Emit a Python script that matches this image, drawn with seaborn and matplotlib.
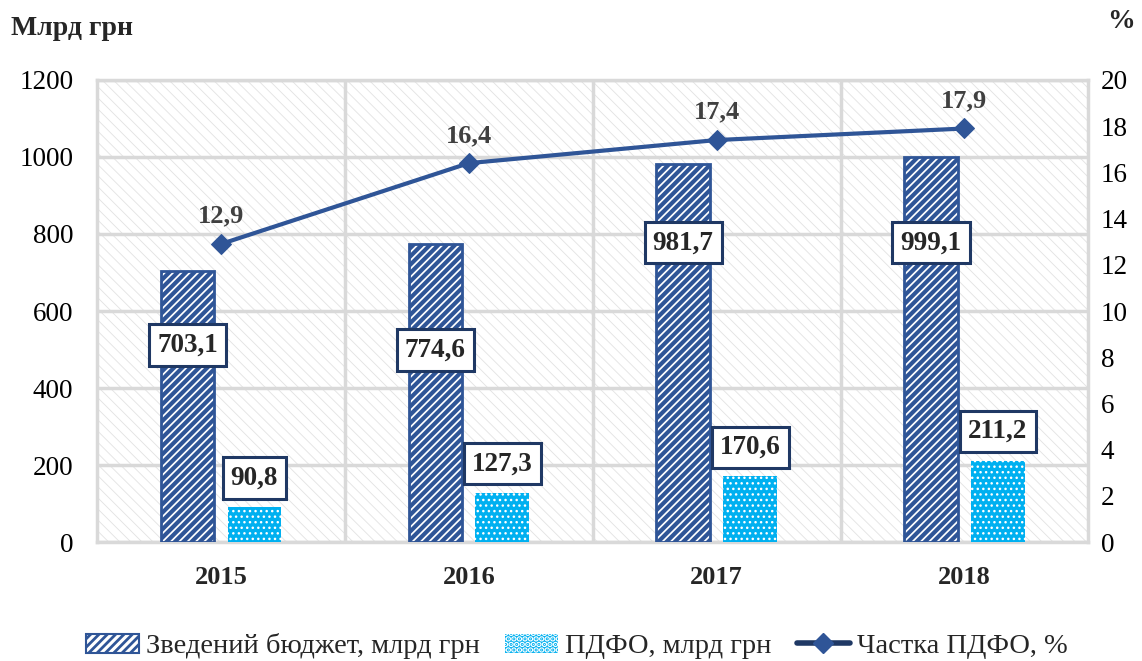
import numpy as np
import pandas as pd
import matplotlib
import matplotlib.pyplot as plt
import seaborn as sns
from matplotlib.patches import Patch
from matplotlib.lines import Line2D

years = ['2015', '2016', '2017', '2018']
budget = [703.1, 774.6, 981.7, 999.1]
pdfo = [90.8, 127.3, 170.6, 211.2]
share = [12.9, 16.4, 17.4, 17.9]

budget_name = 'Зведений бюджет, млрд грн'
pdfo_name = 'ПДФО, млрд грн'
share_name = 'Частка ПДФО, %'

# where the boxed labels of the big bars sit (data units)
budget_label_y = [512, 499, 777, 777]

df = pd.DataFrame({
    'year': years * 2,
    'value': budget + pdfo,
    'series': [budget_name] * len(years) + [pdfo_name] * len(years),
})

sns.set_theme(style='white')
plt.rcParams['font.family'] = ['Liberation Serif', 'DejaVu Serif']
plt.rcParams['hatch.linewidth'] = 3.0

navy = '#2F5597'
dark = '#1F3864'
light = '#00B0F0'
grey = '#D9D9D9'

fig = plt.figure(figsize=(11.42, 6.61), dpi=100)
ax = fig.add_axes([0.085, 0.18, 0.868, 0.699])

sns.barplot(data=df, x='year', y='value', hue='series', ax=ax, width=0.54, gap=0.2,
            palette=['white', light], legend=False, zorder=3, saturation=1)

def hatch_lw(p, w):
    if hasattr(p, 'set_hatch_linewidth'):
        p.set_hatch_linewidth(w)

for p in ax.containers[0]:
    p.set_facecolor('white')
    p.set_edgecolor(navy)
    p.set_hatch('////')
    p.set_linewidth(2)
    hatch_lw(p, 3.0)
for p in ax.containers[1]:
    p.set_facecolor(light)
    p.set_edgecolor('white')
    p.set_hatch('...')
    p.set_linewidth(0)
    hatch_lw(p, 1.0)

# hatched plot background
ax.patch.set_facecolor('white')
ax.patch.set_edgecolor('#E2E2E2')
ax.patch.set_hatch('\\\\\\')
hatch_lw(ax.patch, 0.6)

ax.set_xlim(-0.5, len(years) - 0.5)
ax.set_ylim(0, 1200)
ax.set_yticks(np.arange(0, 1201, 200))
ax.set_xticks(np.arange(0.5, len(years) - 0.5), minor=True)
ax.grid(True, axis='y', which='major', color=grey, lw=2.5, zorder=1)
ax.grid(True, axis='x', which='minor', color=grey, lw=2.5, zorder=1)
ax.set_axisbelow(True)
for s in ax.spines.values():
    s.set_color(grey)
    s.set_linewidth(2.5)
ax.set_xlabel('')
ax.set_ylabel('')
ax.tick_params(axis='y', labelsize=19.5, length=0, pad=17, colors='black')
ax.tick_params(axis='x', which='both', labelsize=19, length=0, pad=17)
for t in ax.get_xticklabels():
    t.set_fontweight('bold')

box = dict(boxstyle='square,pad=0.3', facecolor='white', edgecolor=dark, lw=2.2)
for bar, v, ly in zip(ax.containers[0], budget, budget_label_y):
    ax.text(bar.get_x() + bar.get_width() / 2, ly, f'{v:.1f}'.replace('.', ','),
            ha='center', va='center', fontsize=19.5, fontweight='bold', bbox=box, zorder=6)
for bar, v in zip(ax.containers[1], pdfo):
    ax.annotate(f'{v:.1f}'.replace('.', ','), (bar.get_x() + bar.get_width() / 2, v),
                xytext=(0, 21), textcoords='offset points', ha='center', va='center',
                fontsize=19.5, fontweight='bold', bbox=box, zorder=6)

ax2 = ax.twinx()
xpos = np.arange(len(years))
sns.lineplot(x=xpos, y=share, ax=ax2, color=navy, lw=3, marker='D', markersize=10,
             markeredgecolor=navy, markerfacecolor=navy, zorder=5)
ax2.set_ylim(0, 20)
ax2.set_yticks(np.arange(0, 21, 2))
ax2.tick_params(axis='y', labelsize=19.5, length=0, pad=9, colors='black')
ax2.grid(False)
for s in ax2.spines.values():
    s.set_visible(False)
for x, v in zip(xpos, share):
    ax2.annotate(f'{v:.1f}'.replace('.', ','), (x, v), xytext=(0, 20),
                 textcoords='offset points', ha='center', va='center',
                 fontsize=19, fontweight='bold', color='#404040')

fig.text(0.01, 0.957, 'Млрд грн', fontsize=20, fontweight='bold', va='center', ha='left')
fig.text(0.994, 0.967, '%', fontsize=20, fontweight='bold', va='center', ha='right')

handles = [
    Patch(facecolor='white', edgecolor=navy, hatch='////', lw=1.5, label=budget_name),
    Patch(facecolor=light, edgecolor='white', hatch='...', lw=0, label=pdfo_name),
    Line2D([0], [0], color=dark, lw=4, marker='D', markersize=10,
           markerfacecolor=navy, markeredgecolor=navy, label=share_name),
]
leg = fig.legend(handles=handles, loc='center', bbox_to_anchor=(0.505, 0.022), ncol=3,
                 frameon=False, fontsize=20.5, handlelength=1.85, handleheight=0.7,
                 handletextpad=0.25, columnspacing=0.9)
for h in leg.legend_handles[:1]:
    hatch_lw(h, 2.0)

fig.savefig('out.png', dpi=100)
